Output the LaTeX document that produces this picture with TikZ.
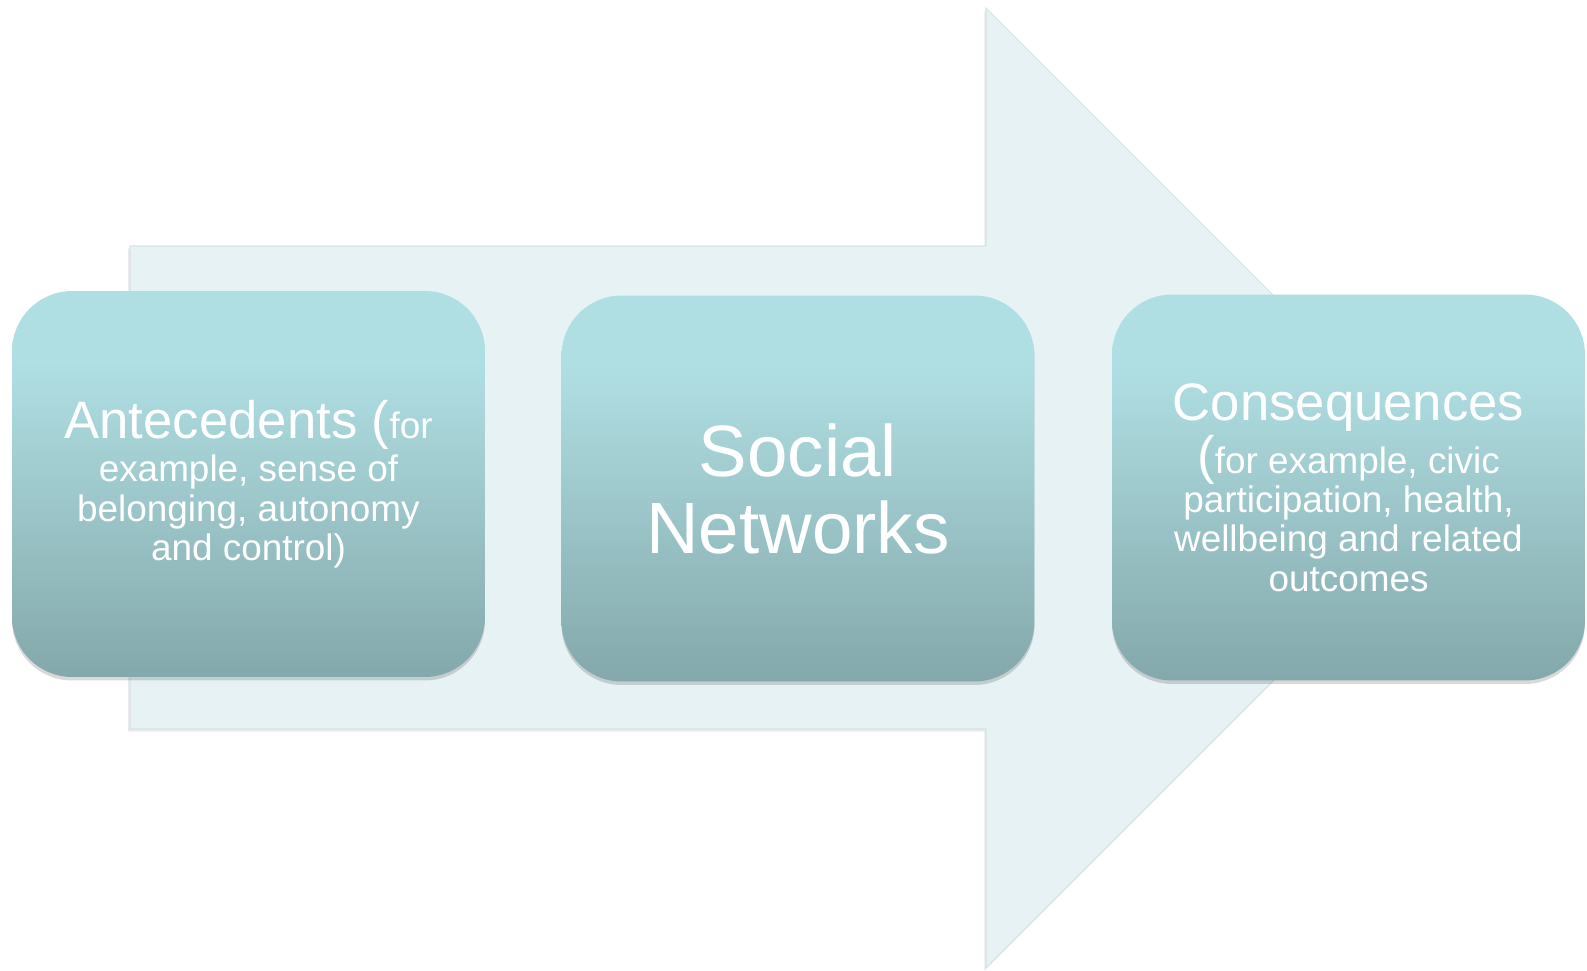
\documentclass[tikz,border=0pt]{standalone}
\usepackage{fontspec}
\setmainfont{Liberation Sans}
\usetikzlibrary{shadows}
\definecolor{arrowfill}{RGB}{230,242,244}
\definecolor{arrowedge}{RGB}{214,228,231}
\definecolor{boxtop}{RGB}{176,223,227}
\definecolor{boxbot}{RGB}{132,168,171}
\pgfdeclareverticalshading{boxshade}{100bp}{color(0bp)=(boxbot); color(25bp)=(boxbot); color(66bp)=(boxtop); color(100bp)=(boxtop)}
\newcommand{\headfont}{\fontsize{30}{33}\selectfont}
\newcommand{\bodyfont}{\fontsize{21}{22.4}\selectfont}
\newcommand{\bigfont}{\fontsize{41.4}{44.8}\selectfont}
\tikzset{
  arrowbody/.style={fill=arrowfill, draw=arrowedge, line width=0.6pt,
    drop shadow={shadow xshift=-1pt, shadow yshift=-1.5pt, opacity=0.08, fill=black}},
  stagebox/.style={rounded corners=1.2cm, shading=boxshade, minimum width=9.46cm,
    minimum height=7.72cm, inner sep=0pt, align=center, text=white, font=\bodyfont,
    drop shadow={shadow xshift=0pt, shadow yshift=-2pt, opacity=0.15, fill=black}}
}
\begin{document}
\begin{tikzpicture}[x=0.02cm, y=-0.02cm]
      \useasboundingbox (0,0) rectangle (1587,971);
      % big arrow behind the three stages
      \draw[arrowbody] (130,246) -- (986,246) -- (986,8) -- (1466,488)
        -- (986,968) -- (986,729) -- (130,729) -- cycle;
      \node[stagebox] (antecedents) at (248.5,484) {{\headfont Antecedents (}for\\[2.5pt]
        example, sense of\\ belonging, autonomy\\ and control)};
      \node[stagebox, font=\bigfont, text depth=0pt] (networks) at (798,488.5) {Social\\[-1pt] Networks};
      \node[stagebox] (consequences) at (1348.5,487.5) {{\headfont Consequences}\\[1pt]
        {\headfont (}for example, civic\\ participation, health,\\
        wellbeing and related\\ outcomes};
\end{tikzpicture}
\end{document}
